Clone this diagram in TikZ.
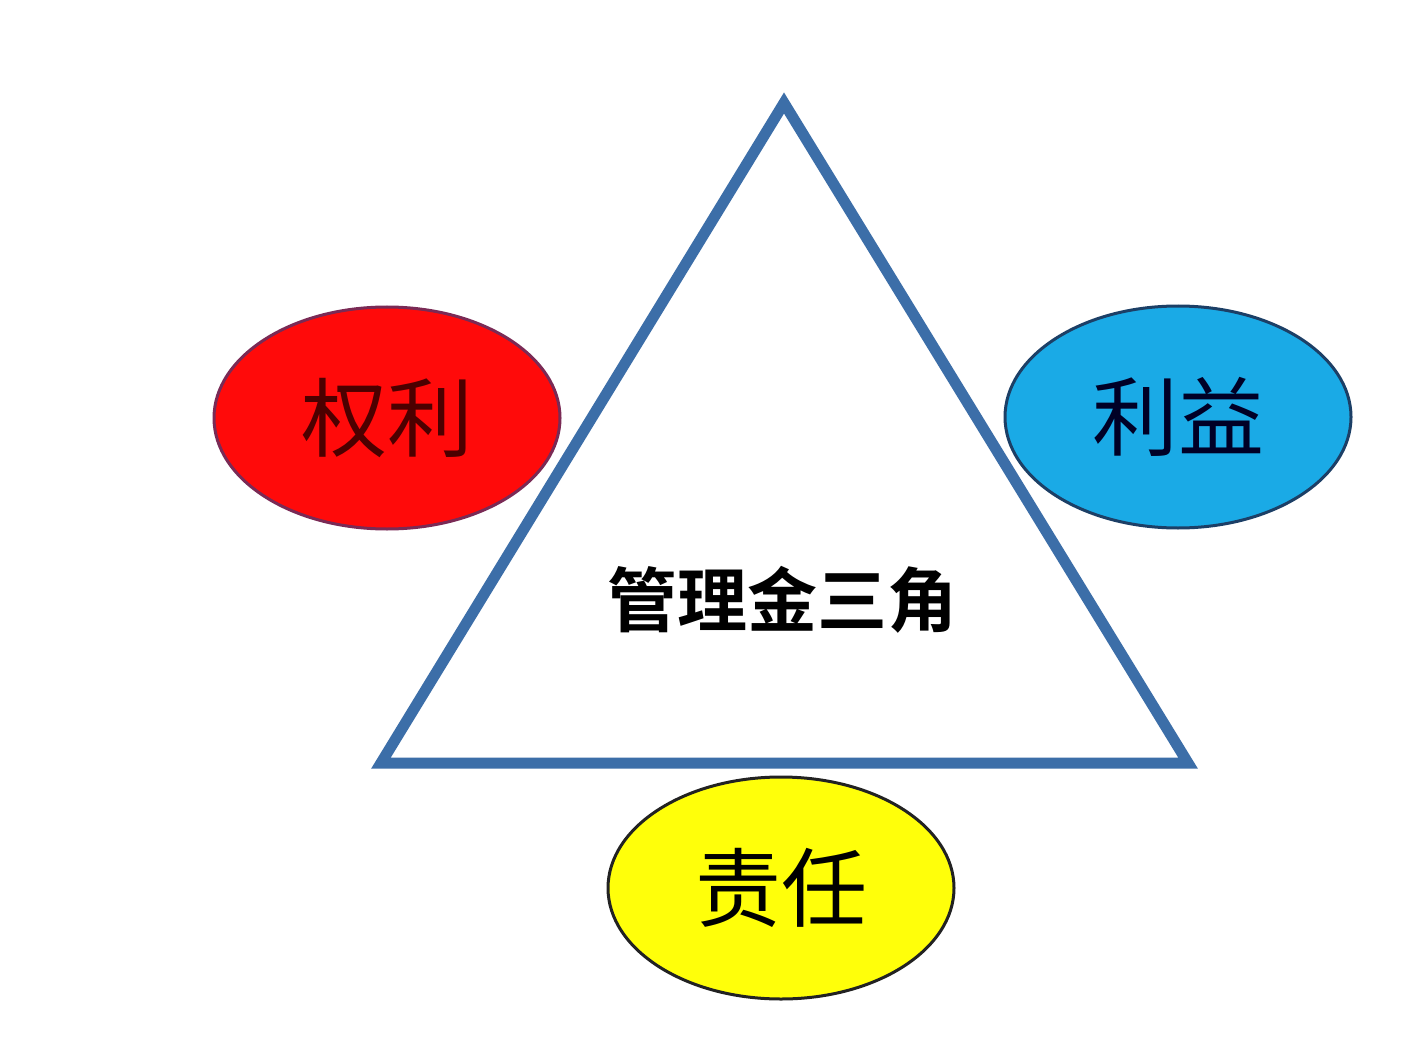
\documentclass[tikz,border=0pt]{standalone}
\usepackage{fontspec}
\newfontfamily\cjk{Noto Sans CJK SC}
\newfontfamily\cjkbold{Noto Sans CJK SC Bold}
\usetikzlibrary{shapes.geometric}
\definecolor{triblue}{HTML}{3C6EA8}
\definecolor{redfill}{HTML}{FF0A0A}
\definecolor{redline}{HTML}{7A2A55}
\definecolor{bluefill}{HTML}{1AAAE6}
\definecolor{blueline}{HTML}{1C3F66}
\definecolor{yellowfill}{HTML}{FFFF0A}
\definecolor{yellowline}{HTML}{222222}
\tikzset{
  oval/.style={ellipse, minimum width=346pt, minimum height=222pt, line width=3pt, inner sep=0pt},
  ovaltext/.style={font=\cjk\fontsize{86}{86}\selectfont},
}
\begin{document}
\begin{tikzpicture}[x=1pt,y=-1pt]
\useasboundingbox[fill=white] (0,0) rectangle (1420,1040);
\coordinate (apex) at (784,103);
\coordinate (bl) at (381,763);
\coordinate (br) at (1188,763);
\draw[triblue, line width=11pt, line join=miter] (apex) -- (bl) -- (br) -- cycle;
\node[oval, fill=redfill, draw=redline] (quanli) at (387,418) {};
\node[ovaltext, text=black!70!red] at (quanli.center) {权利};
\node[oval, fill=bluefill, draw=blueline] (liyi) at (1178,417) {};
\node[ovaltext, text=black!85!blue] at (liyi.center) {利益};
\node[oval, fill=yellowfill, draw=yellowline] (zeren) at (781,888) {};
\node[ovaltext, text=black] at (zeren.center) {责任};
\node[font=\cjkbold\fontsize{70}{70}\selectfont, text=black] (title) at (782,600) {管理金三角};
\end{tikzpicture}
\end{document}
